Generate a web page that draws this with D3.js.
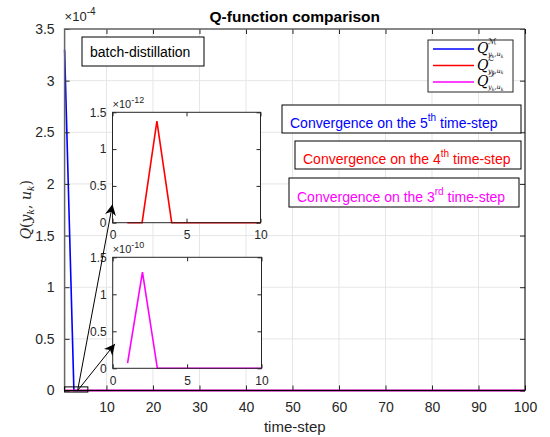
<!DOCTYPE html>
<html>
<head>
<meta charset="utf-8">
<script src="https://cdn.jsdelivr.net/npm/d3@7"></script>
<style>
  body { margin: 0; background: #fff; }
  svg { font-family: "Liberation Sans", Arial, sans-serif; }
  .math { font-family: "DejaVu Serif", "Liberation Serif", serif; font-style: italic; }
  .script { font-family: "DejaVu Sans", "Noto Sans", sans-serif; font-style: italic; }
</style>
</head>
<body>
<svg id="chart" width="550" height="437"></svg>
<script>
// time-steps (tail is flat zero after step 10, so one point at 100 closes it)
var steps = [1, 2, 3, 4, 5, 6, 7, 8, 9, 10, 100];
// Q values of the three methods
var qM = [3.30e-4, 1.65e-4, 0, 0, 0, 0, 0, 0, 0, 0, 0];
var qL = [0, 0, 1.38e-12, 0, 0, 0, 0, 0, 0, 0, 0];
var qD = [0.07e-10, 1.30e-10, 0, 0, 0, 0, 0, 0, 0, 0, 0];

var mainXTicks = [10, 20, 30, 40, 50, 60, 70, 80, 90, 100];
var mainYTicks = [0, 0.5e-4, 1e-4, 1.5e-4, 2e-4, 2.5e-4, 3e-4, 3.5e-4];
var insetXTicks = [0, 5, 10];
var insetYTicks = [0, 0.5, 1, 1.5];

var svg = d3.select("#chart");

// Main axes box
var mLeft = 64.6, mRight = 525, mTop = 29, mBottom = 390.5;
var x = d3.scaleLinear().domain([1, 100]).range([mLeft, mRight]);
var y = d3.scaleLinear().domain([0, 3.5e-4]).range([mBottom, mTop]);

// grid
svg.append("g").selectAll("line").data(mainXTicks).join("line")
  .attr("x1", function(d){ return x(d); }).attr("x2", function(d){ return x(d); })
  .attr("y1", mTop).attr("y2", mBottom)
  .attr("stroke", "#e6e6e6");
svg.append("g").selectAll("line").data(mainYTicks).join("line")
  .attr("y1", function(d){ return y(d); }).attr("y2", function(d){ return y(d); })
  .attr("x1", mLeft).attr("x2", mRight)
  .attr("stroke", "#e6e6e6");

function drawLines(g, xs, ys, data, colors) {
  data.forEach(function(vals, i) {
    var pts = steps.map(function(s, j){ return [s, vals[j]]; })
      .filter(function(p){ return p[0] <= xs.domain()[1]; });
    g.append("path")
      .datum(pts)
      .attr("fill", "none")
      .attr("stroke", colors[i])
      .attr("stroke-width", 1.6)
      .attr("d", d3.line().x(function(p){ return xs(p[0]); }).y(function(p){ return ys(p[1]); }));
  });
}

var colors = ["#0000ff", "#ff0000", "#ff00ff"];
drawLines(svg.append("g"), x, y, [qM, qL, qD], colors);

function styleTicks(g, size) {
  g.select(".domain").remove();
  g.selectAll("line").attr("stroke", "#262626");
  g.selectAll("text").attr("font-size", size).attr("fill", "#262626")
    .attr("font-family", "Liberation Sans, Arial");
}

// main axes with inward ticks on all four sides
svg.append("g").attr("transform", "translate(0," + mBottom + ")")
  .call(d3.axisBottom(x).tickValues(mainXTicks).tickSizeInner(-5).tickSizeOuter(0).tickPadding(12))
  .call(styleTicks, 14);
svg.append("g").attr("transform", "translate(0," + mTop + ")")
  .call(d3.axisTop(x).tickValues(mainXTicks).tickSizeInner(-5).tickSizeOuter(0).tickFormat(""))
  .call(styleTicks, 14);
svg.append("g").attr("transform", "translate(" + mLeft + ",0)")
  .call(d3.axisLeft(y).tickValues(mainYTicks).tickSizeInner(-5).tickSizeOuter(0).tickPadding(10)
    .tickFormat(function(d){ return d3.format("~g")(+(d * 1e4).toFixed(2)); }))
  .call(styleTicks, 14);
svg.append("g").attr("transform", "translate(" + mRight + ",0)")
  .call(d3.axisRight(y).tickValues(mainYTicks).tickSizeInner(-5).tickSizeOuter(0).tickFormat(""))
  .call(styleTicks, 14);

svg.append("path")
  .attr("d", "M" + mRight + "," + mTop + "H" + mLeft + "V" + mBottom)
  .attr("fill", "none").attr("stroke", "#666").attr("stroke-width", 1.5);
svg.append("path")
  .attr("d", "M" + mLeft + "," + mBottom + "H" + mRight + "V" + mTop)
  .attr("fill", "none").attr("stroke", "#000");

// exponent label
var exp4 = svg.append("text").attr("x", mLeft).attr("y", mTop - 8).attr("font-size", 13).attr("fill", "#262626");
exp4.append("tspan").text("\u00d710");
exp4.append("tspan").attr("dy", -6).attr("font-size", 10).text("-4");

// title and x label
svg.append("text").attr("x", (mLeft + mRight) / 2).attr("y", 22)
  .attr("text-anchor", "middle").attr("font-weight", "bold").attr("font-size", 15.5)
  .text("Q-function comparison");
svg.append("text").attr("x", (mLeft + mRight) / 2).attr("y", 432)
  .attr("text-anchor", "middle").attr("font-size", 15).attr("fill", "#262626")
  .text("time-step");

// y label
var yl = svg.append("text").attr("class", "math")
  .attr("transform", "translate(31," + ((mTop + mBottom) / 2) + ") rotate(-90)")
  .attr("text-anchor", "middle").attr("font-size", 14).attr("fill", "#262626");
yl.append("tspan").text("Q");
yl.append("tspan").attr("font-style", "normal").text("(");
yl.append("tspan").text("y");
yl.append("tspan").attr("dy", 3).attr("font-size", 9).text("k");
yl.append("tspan").attr("dy", -3).attr("font-style", "normal").text(", ");
yl.append("tspan").text("u");
yl.append("tspan").attr("dy", 3).attr("font-size", 9).text("k");
yl.append("tspan").attr("dy", -3).attr("font-style", "normal").text(")");

// zoom rectangle near origin
svg.append("rect")
  .attr("x", x(1)).attr("y", y(0.035e-4))
  .attr("width", x(6) - x(1)).attr("height", y(-0.015e-4) - y(0.035e-4))
  .attr("fill", "none").attr("stroke", "#000").attr("stroke-width", 1);

// insets
function inset(l, r, t, b, yMax, expText, vals, color) {
  var g = svg.append("g");
  var xs = d3.scaleLinear().domain([0, 10]).range([l, r]);
  var ys = d3.scaleLinear().domain([0, yMax]).range([b, t]);
  var yt = insetYTicks.map(function(v){ return v * yMax / 1.5; });
  g.append("rect").attr("x", l).attr("y", t).attr("width", r - l).attr("height", b - t).attr("fill", "#fff");
  drawLines(g, xs, ys, [vals], [color]);
  g.append("g").attr("transform", "translate(0," + b + ")")
    .call(d3.axisBottom(xs).tickValues(insetXTicks).tickSizeInner(-4).tickSizeOuter(0).tickPadding(8))
    .call(styleTicks, 12);
  g.append("g").attr("transform", "translate(0," + t + ")")
    .call(d3.axisTop(xs).tickValues(insetXTicks).tickSizeInner(-4).tickSizeOuter(0).tickFormat(""))
    .call(styleTicks, 12);
  g.append("g").attr("transform", "translate(" + l + ",0)")
    .call(d3.axisLeft(ys).tickValues(yt).tickSizeInner(-4).tickSizeOuter(0).tickPadding(6)
      .tickFormat(function(d, i){ return insetYTicks[i]; }))
    .call(styleTicks, 12);
  g.append("g").attr("transform", "translate(" + r + ",0)")
    .call(d3.axisRight(ys).tickValues(yt).tickSizeInner(-4).tickSizeOuter(0).tickFormat(""))
    .call(styleTicks, 12);
  g.append("rect").attr("x", l).attr("y", t).attr("width", r - l).attr("height", b - t)
    .attr("fill", "none").attr("stroke", "#262626");
  var e = g.append("text").attr("x", l).attr("y", t - 4).attr("font-size", 11).attr("fill", "#262626");
  e.append("tspan").text("\u00d710");
  e.append("tspan").attr("dy", -5).attr("font-size", 9).text(expText);
  return { x: xs, y: ys };
}

var in1 = inset(112.5, 260.5, 112.3, 222.7, 1.5e-12, "-12", qL, "#ff0000");
var in2 = inset(112.7, 261.5, 257.3, 368.3, 1.5e-10, "-10", qD, "#ff00ff");

// arrows from the zoom box to the insets
svg.append("defs").append("marker")
  .attr("id", "head").attr("viewBox", "0 0 10 10").attr("refX", 10).attr("refY", 5)
  .attr("markerWidth", 11).attr("markerHeight", 11).attr("markerUnits", "userSpaceOnUse")
  .attr("orient", "auto")
  .append("path").attr("d", "M0,0L10,5L0,10L3,5Z").attr("fill", "#000");

var arrowStart = [x(3.8), y(0.0)];
[[in1.x(0), in1.y(0.25e-12)], [in2.x(0.15), in2.y(0.33e-10)]].forEach(function(end) {
  svg.append("line")
    .attr("x1", arrowStart[0]).attr("y1", arrowStart[1])
    .attr("x2", end[0]).attr("y2", end[1])
    .attr("stroke", "#000").attr("stroke-width", 1)
    .attr("marker-end", "url(#head)");
});

// text boxes
function textBox(bx, by, bw, bh, tx, ty, color, parts) {
  svg.append("rect").attr("x", bx).attr("y", by).attr("width", bw).attr("height", bh)
    .attr("fill", "#fff").attr("stroke", "#000").attr("stroke-width", 1);
  var t = svg.append("text").attr("x", tx).attr("y", ty).attr("font-size", 14).attr("fill", color);
  parts.forEach(function(p) {
    if (typeof p === "object") {
      t.append("tspan").attr("dy", -7).attr("font-size", 10).text(p.up);
      t.append("tspan").attr("dy", 7).text("\u00a0");
    } else {
      t.append("tspan").text(p);
    }
  });
}

textBox(82, 37, 122, 29, 90, 57, "#000", ["batch-distillation"]);
textBox(282, 105, 239, 28, 290, 128, "#0000ff", ["Convergence on the 5", {up: "th"}, "time-step"]);
textBox(295, 141, 226, 28, 303, 164, "#ff0000", ["Convergence on the 4", {up: "th"}, "time-step"]);
textBox(289, 178, 230, 29, 297, 202, "#ff00ff", ["Convergence on the 3", {up: "rd"}, "time-step"]);

// legend
var legendNames = ["\u2133", "\u2112", "\ud835\udc9f"];
var lg = svg.append("g");
lg.append("rect").attr("x", 428).attr("y", 40).attr("width", 85).attr("height", 52)
  .attr("fill", "#fff").attr("stroke", "#262626");
legendNames.forEach(function(n, i) {
  var ly = 49 + i * 16.5;
  lg.append("line").attr("x1", 433).attr("x2", 474).attr("y1", ly).attr("y2", ly)
    .attr("stroke", colors[i]).attr("stroke-width", 1.6);
  lg.append("text").attr("class", "math").attr("x", 477).attr("y", ly + 4)
    .attr("font-size", 14).attr("fill", "#000").text("Q");
  lg.append("text").attr("class", "script").attr("x", 488).attr("y", ly - 5)
    .attr("font-size", 8).attr("fill", "#000").text(n);
  var sub = lg.append("text").attr("class", "math").attr("x", 488).attr("y", ly + 7)
    .attr("font-size", 6.5).attr("fill", "#000");
  sub.append("tspan").text("y");
  sub.append("tspan").attr("dy", 1.5).attr("font-size", 4.5).text("k");
  sub.append("tspan").attr("dy", -1.5).text(",u");
  sub.append("tspan").attr("dy", 1.5).attr("font-size", 4.5).text("k");
});
</script>
</body>
</html>
